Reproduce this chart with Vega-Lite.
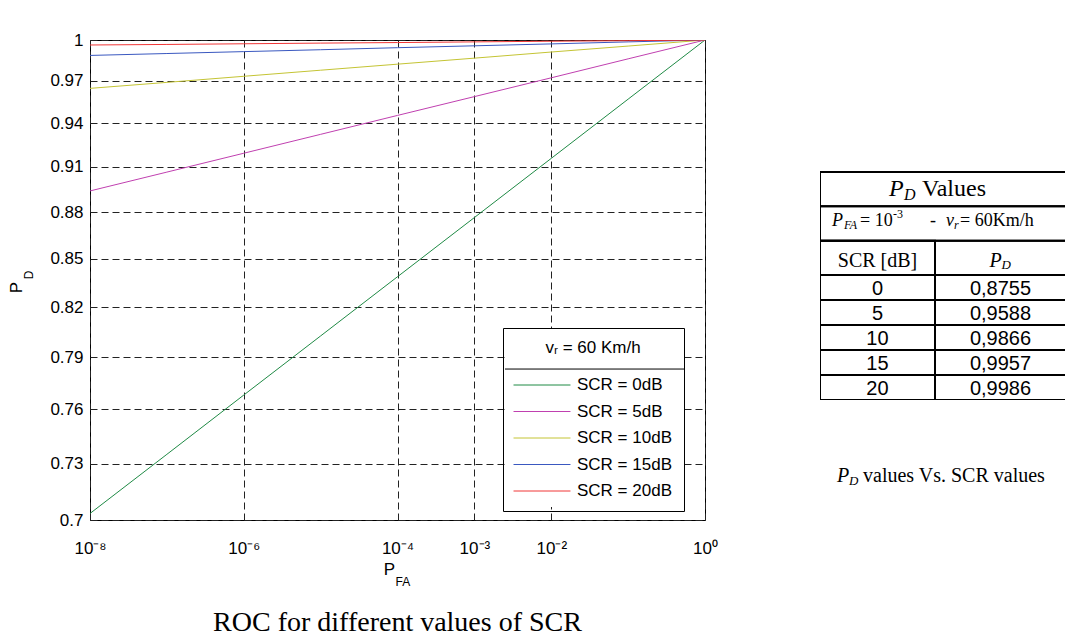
{
  "$schema": "https://vega.github.io/schema/vega-lite/v6.json",
  "background": "#ffffff",
  "padding": {"left": 7, "top": 30, "right": 0, "bottom": 0},
  "bounds": "flush",
  "spacing": 115,
  "config": {
    "font": "Liberation Sans",
    "view": {"stroke": "#000000", "strokeWidth": 1}
  },
  "datasets": {
    "roc": [
      {"scr": "SCR = 0dB", "pfa": 1e-8, "pd": 0.7034},
      {"scr": "SCR = 0dB", "pfa": 1e-7, "pd": 0.7350},
      {"scr": "SCR = 0dB", "pfa": 1e-6, "pd": 0.7681},
      {"scr": "SCR = 0dB", "pfa": 1e-5, "pd": 0.8026},
      {"scr": "SCR = 0dB", "pfa": 1e-4, "pd": 0.8387},
      {"scr": "SCR = 0dB", "pfa": 1e-3, "pd": 0.8764},
      {"scr": "SCR = 0dB", "pfa": 1e-2, "pd": 0.9158},
      {"scr": "SCR = 0dB", "pfa": 1e-1, "pd": 0.9570},
      {"scr": "SCR = 0dB", "pfa": 1, "pd": 1},
      {"scr": "SCR = 5dB", "pfa": 1e-8, "pd": 0.8939},
      {"scr": "SCR = 5dB", "pfa": 1e-7, "pd": 0.9065},
      {"scr": "SCR = 5dB", "pfa": 1e-6, "pd": 0.9193},
      {"scr": "SCR = 5dB", "pfa": 1e-5, "pd": 0.9323},
      {"scr": "SCR = 5dB", "pfa": 1e-4, "pd": 0.9455},
      {"scr": "SCR = 5dB", "pfa": 1e-3, "pd": 0.9588},
      {"scr": "SCR = 5dB", "pfa": 1e-2, "pd": 0.9723},
      {"scr": "SCR = 5dB", "pfa": 1e-1, "pd": 0.9861},
      {"scr": "SCR = 5dB", "pfa": 1, "pd": 1},
      {"scr": "SCR = 10dB", "pfa": 1e-8, "pd": 0.9647},
      {"scr": "SCR = 10dB", "pfa": 1e-7, "pd": 0.9690},
      {"scr": "SCR = 10dB", "pfa": 1e-6, "pd": 0.9734},
      {"scr": "SCR = 10dB", "pfa": 1e-5, "pd": 0.9778},
      {"scr": "SCR = 10dB", "pfa": 1e-4, "pd": 0.9822},
      {"scr": "SCR = 10dB", "pfa": 1e-3, "pd": 0.9866},
      {"scr": "SCR = 10dB", "pfa": 1e-2, "pd": 0.9911},
      {"scr": "SCR = 10dB", "pfa": 1e-1, "pd": 0.9955},
      {"scr": "SCR = 10dB", "pfa": 1, "pd": 1},
      {"scr": "SCR = 15dB", "pfa": 1e-8, "pd": 0.9886},
      {"scr": "SCR = 15dB", "pfa": 1e-7, "pd": 0.9900},
      {"scr": "SCR = 15dB", "pfa": 1e-6, "pd": 0.9914},
      {"scr": "SCR = 15dB", "pfa": 1e-5, "pd": 0.9928},
      {"scr": "SCR = 15dB", "pfa": 1e-4, "pd": 0.9943},
      {"scr": "SCR = 15dB", "pfa": 1e-3, "pd": 0.9957},
      {"scr": "SCR = 15dB", "pfa": 1e-2, "pd": 0.9971},
      {"scr": "SCR = 15dB", "pfa": 1e-1, "pd": 0.9986},
      {"scr": "SCR = 15dB", "pfa": 1, "pd": 1},
      {"scr": "SCR = 20dB", "pfa": 1e-8, "pd": 0.9963},
      {"scr": "SCR = 20dB", "pfa": 1e-7, "pd": 0.9967},
      {"scr": "SCR = 20dB", "pfa": 1e-6, "pd": 0.9972},
      {"scr": "SCR = 20dB", "pfa": 1e-5, "pd": 0.9977},
      {"scr": "SCR = 20dB", "pfa": 1e-4, "pd": 0.9981},
      {"scr": "SCR = 20dB", "pfa": 1e-3, "pd": 0.9986},
      {"scr": "SCR = 20dB", "pfa": 1e-2, "pd": 0.9991},
      {"scr": "SCR = 20dB", "pfa": 1e-1, "pd": 0.9995},
      {"scr": "SCR = 20dB", "pfa": 1, "pd": 1}
    ],
    "pdtable": [
      {"scr": "0", "pd": "0,8755"},
      {"scr": "5", "pd": "0,9588"},
      {"scr": "10", "pd": "0,9866"},
      {"scr": "15", "pd": "0,9957"},
      {"scr": "20", "pd": "0,9986"}
    ]
  },
  "hconcat": [
    {
      "width": 615,
      "height": 480,
      "title": {"text": "ROC for different values of SCR", "orient": "bottom", "anchor": "middle", "font": "Liberation Serif", "fontSize": 28, "fontWeight": "normal", "color": "#000000", "offset": 21},
      "layer": [
        {
          "data": {"values": [{}]},
          "mark": {"type": "rect", "fill": "#ffffff"},
          "encoding": {
            "x": {"datum": 0.0025, "type": "quantitative"},
            "x2": {"datum": 0.5495},
            "y": {"datum": 0.7068, "type": "quantitative"},
            "y2": {"datum": 0.8074}
          }
        },
        {
          "data": {"name": "roc"},
          "mark": {"type": "line", "strokeWidth": 1, "clip": true},
          "encoding": {
            "x": {
              "field": "pfa", "type": "quantitative",
              "scale": {"type": "log", "domain": [1e-8, 1], "nice": false},
              "axis": {
                "values": [1e-8, 1e-6, 1e-4, 1e-3, 1e-2, 1],
                "labelExpr": "datum.value > 0.5 ? '10⁰' : datum.value > 0.005 ? '10⁻²' : datum.value > 0.0005 ? '10⁻³' : datum.value > 0.00005 ? '10⁻⁴' : datum.value > 0.0000005 ? '10⁻⁶' : '10⁻⁸'",
                "title": null, "grid": true, "gridDash": [7, 4], "gridColor": "#222222", "gridWidth": 1,
                "ticks": false, "domain": false, "labelFont": "Liberation Sans", "labelFontSize": 17,
                "labelColor": "#000000", "labelPadding": 20, "labelFlush": false, "labelOverlap": false, "labelBound": false
              }
            },
            "y": {
              "field": "pd", "type": "quantitative",
              "scale": {"type": "log", "domain": [0.7, 1], "nice": false, "zero": false},
              "axis": {
                "values": [0.7, 0.73, 0.76, 0.79, 0.82, 0.85, 0.88, 0.91, 0.94, 0.97, 1],
                "format": ".2~f",
                "title": null, "grid": true, "gridDash": [7, 4], "gridColor": "#222222", "gridWidth": 1,
                "ticks": false, "domain": false, "labelFont": "Liberation Sans", "labelFontSize": 17,
                "labelColor": "#000000", "labelPadding": 7, "labelOverlap": false
              }
            },
            "color": {
              "field": "scr", "type": "nominal",
              "scale": {
                "domain": ["SCR = 0dB", "SCR = 5dB", "SCR = 10dB", "SCR = 15dB", "SCR = 20dB"],
                "range": ["#1f8a45", "#c040b0", "#c4c434", "#3a58c0", "#f03636"]
              },
              "legend": {
                "orient": "none", "legendX": 413, "legendY": 288,
                "title": "vᵣ = 60 Km/h", "titleFont": "Liberation Sans", "titleFontSize": 17, "titleFontWeight": "normal",
                "titleColor": "#000000", "titleAnchor": "middle", "titlePadding": 19,
                "labelFont": "Liberation Sans", "labelFontSize": 17, "labelColor": "#000000", "labelOffset": 26,
                "symbolType": "M-3.35,0H3.35", "symbolSize": 289, "symbolStrokeWidth": 1, "symbolOffset": 18,
                "rowPadding": 9.5, "padding": 12, "strokeColor": "#000000", "cornerRadius": 0
              }
            }
          }
        },
        {
          "data": {"values": [{}]},
          "mark": {"type": "rule", "color": "#000000", "strokeWidth": 1},
          "encoding": {
            "x": {"datum": 0.0025, "type": "quantitative"},
            "x2": {"datum": 0.5495},
            "y": {"datum": 0.7831, "type": "quantitative"}
          }
        },
        {
          "data": {"values": [{}]},
          "mark": {"type": "text", "font": "Liberation Sans", "fontSize": 17, "angle": 270, "align": "center", "baseline": "middle", "xOffset": -73, "color": "#000000"},
          "encoding": {"x": {"datum": 1e-8, "type": "quantitative"}, "y": {"datum": 0.832, "type": "quantitative"}, "text": {"value": "P"}}
        },
        {
          "data": {"values": [{}]},
          "mark": {"type": "text", "font": "Liberation Sans", "fontSize": 12, "angle": 270, "align": "center", "baseline": "middle", "xOffset": -61, "color": "#000000"},
          "encoding": {"x": {"datum": 1e-8, "type": "quantitative"}, "y": {"datum": 0.8398, "type": "quantitative"}, "text": {"value": "D"}}
        },
        {
          "data": {"values": [{}]},
          "mark": {"type": "text", "font": "Liberation Sans", "fontSize": 17, "align": "center", "baseline": "middle", "xOffset": -8, "yOffset": 50, "color": "#000000"},
          "encoding": {"x": {"datum": 1e-4, "type": "quantitative"}, "y": {"datum": 0.7, "type": "quantitative"}, "text": {"value": "P"}}
        },
        {
          "data": {"values": [{}]},
          "mark": {"type": "text", "font": "Liberation Sans", "fontSize": 12, "align": "left", "baseline": "middle", "xOffset": -2, "yOffset": 62, "color": "#000000"},
          "encoding": {"x": {"datum": 1e-4, "type": "quantitative"}, "y": {"datum": 0.7, "type": "quantitative"}, "text": {"value": "FA"}}
        }
      ]
    },
    {
      "width": 246,
      "height": 360,
      "view": {"stroke": null},
      "resolve": {"scale": {"y": "independent"}},
      "layer": [
        {
          "data": {"values": [{"row": "title"}, {"row": "sub"}, {"row": "head"}]},
          "layer": [
            {
              "mark": {"type": "rect", "fill": "transparent", "stroke": "#000000", "strokeWidth": 2, "clip": true},
              "encoding": {
                "y": {"field": "row", "type": "nominal", "scale": {"type": "band", "domain": ["title", "sub", "head"], "range": [132, 235], "paddingInner": 0, "paddingOuter": 0}, "axis": null},
                "x": {"datum": 0, "type": "quantitative", "scale": {"domain": [0, 1], "nice": false}, "axis": null},
                "x2": {"datum": 1.03}
              }
            },
            {
              "transform": [{"filter": "datum.row === 'head'"}],
              "mark": {"type": "rect", "fill": "transparent", "stroke": "#000000", "strokeWidth": 2, "clip": true},
              "encoding": {
                "y": {"field": "row", "type": "nominal", "axis": null},
                "x": {"datum": 0, "type": "quantitative", "axis": null},
                "x2": {"datum": 0.4675}
              }
            },
            {
              "transform": [{"filter": "datum.row === 'title'"}],
              "mark": {"type": "text", "font": "Liberation Serif", "fontStyle": "italic", "fontSize": 24, "align": "left", "baseline": "middle", "dx": -54, "color": "#000000"},
              "encoding": {"y": {"field": "row", "type": "nominal", "axis": null}, "x": {"datum": 0.5, "type": "quantitative"}, "text": {"value": "P"}}
            },
            {
              "transform": [{"filter": "datum.row === 'title'"}],
              "mark": {"type": "text", "font": "Liberation Serif", "fontStyle": "italic", "fontSize": 16, "align": "left", "baseline": "middle", "dx": -39, "dy": 6, "color": "#000000"},
              "encoding": {"y": {"field": "row", "type": "nominal", "axis": null}, "x": {"datum": 0.5, "type": "quantitative"}, "text": {"value": "D"}}
            },
            {
              "transform": [{"filter": "datum.row === 'title'"}],
              "mark": {"type": "text", "font": "Liberation Serif", "fontSize": 24, "align": "left", "baseline": "middle", "dx": -21, "color": "#000000"},
              "encoding": {"y": {"field": "row", "type": "nominal", "axis": null}, "x": {"datum": 0.5, "type": "quantitative"}, "text": {"value": "Values"}}
            },
            {
              "transform": [{"filter": "datum.row === 'sub'"}],
              "mark": {"type": "text", "font": "Liberation Serif", "fontStyle": "italic", "fontSize": 18, "align": "left", "baseline": "middle", "dx": -111, "dy": -3, "color": "#000000"},
              "encoding": {"y": {"field": "row", "type": "nominal", "axis": null}, "x": {"datum": 0.5, "type": "quantitative"}, "text": {"value": "P"}}
            },
            {
              "transform": [{"filter": "datum.row === 'sub'"}],
              "mark": {"type": "text", "font": "Liberation Serif", "fontStyle": "italic", "fontSize": 12, "align": "left", "baseline": "middle", "dx": -99, "dy": 1, "color": "#000000"},
              "encoding": {"y": {"field": "row", "type": "nominal", "axis": null}, "x": {"datum": 0.5, "type": "quantitative"}, "text": {"value": "FA"}}
            },
            {
              "transform": [{"filter": "datum.row === 'sub'"}],
              "mark": {"type": "text", "font": "Liberation Serif", "fontSize": 18, "align": "left", "baseline": "middle", "dx": -83, "dy": -3, "color": "#000000"},
              "encoding": {"y": {"field": "row", "type": "nominal", "axis": null}, "x": {"datum": 0.5, "type": "quantitative"}, "text": {"value": "= 10"}}
            },
            {
              "transform": [{"filter": "datum.row === 'sub'"}],
              "mark": {"type": "text", "font": "Liberation Serif", "fontSize": 12, "align": "left", "baseline": "middle", "dx": -50, "dy": -10, "color": "#000000"},
              "encoding": {"y": {"field": "row", "type": "nominal", "axis": null}, "x": {"datum": 0.5, "type": "quantitative"}, "text": {"value": "-3"}}
            },
            {
              "transform": [{"filter": "datum.row === 'sub'"}],
              "mark": {"type": "text", "font": "Liberation Serif", "fontSize": 18, "align": "left", "baseline": "middle", "dx": -13, "dy": -3, "color": "#000000"},
              "encoding": {"y": {"field": "row", "type": "nominal", "axis": null}, "x": {"datum": 0.5, "type": "quantitative"}, "text": {"value": "-"}}
            },
            {
              "transform": [{"filter": "datum.row === 'sub'"}],
              "mark": {"type": "text", "font": "Liberation Serif", "fontStyle": "italic", "fontSize": 18, "align": "left", "baseline": "middle", "dx": 3, "dy": -3, "color": "#000000"},
              "encoding": {"y": {"field": "row", "type": "nominal", "axis": null}, "x": {"datum": 0.5, "type": "quantitative"}, "text": {"value": "v"}}
            },
            {
              "transform": [{"filter": "datum.row === 'sub'"}],
              "mark": {"type": "text", "font": "Liberation Serif", "fontStyle": "italic", "fontSize": 12, "align": "left", "baseline": "middle", "dx": 11, "dy": 1, "color": "#000000"},
              "encoding": {"y": {"field": "row", "type": "nominal", "axis": null}, "x": {"datum": 0.5, "type": "quantitative"}, "text": {"value": "r"}}
            },
            {
              "transform": [{"filter": "datum.row === 'sub'"}],
              "mark": {"type": "text", "font": "Liberation Serif", "fontSize": 18, "align": "left", "baseline": "middle", "dx": 17, "dy": -3, "color": "#000000"},
              "encoding": {"y": {"field": "row", "type": "nominal", "axis": null}, "x": {"datum": 0.5, "type": "quantitative"}, "text": {"value": "= 60Km/h"}}
            },
            {
              "transform": [{"filter": "datum.row === 'head'"}],
              "mark": {"type": "text", "font": "Liberation Serif", "fontSize": 20, "align": "center", "baseline": "middle", "dy": 3, "color": "#000000"},
              "encoding": {"y": {"field": "row", "type": "nominal", "axis": null}, "x": {"datum": 0.2337, "type": "quantitative"}, "text": {"value": "SCR [dB]"}}
            },
            {
              "transform": [{"filter": "datum.row === 'head'"}],
              "mark": {"type": "text", "font": "Liberation Serif", "fontStyle": "italic", "fontSize": 20, "align": "left", "baseline": "middle", "dx": -11, "dy": 3, "color": "#000000"},
              "encoding": {"y": {"field": "row", "type": "nominal", "axis": null}, "x": {"datum": 0.7337, "type": "quantitative"}, "text": {"value": "P"}}
            },
            {
              "transform": [{"filter": "datum.row === 'head'"}],
              "mark": {"type": "text", "font": "Liberation Serif", "fontStyle": "italic", "fontSize": 13, "align": "left", "baseline": "middle", "dx": 1, "dy": 7, "color": "#000000"},
              "encoding": {"y": {"field": "row", "type": "nominal", "axis": null}, "x": {"datum": 0.7337, "type": "quantitative"}, "text": {"value": "D"}}
            }
          ]
        },
        {
          "data": {"name": "pdtable"},
          "layer": [
            {
              "mark": {"type": "rect", "fill": "transparent", "stroke": "#000000", "strokeWidth": 2, "clip": true},
              "encoding": {
                "y": {"field": "scr", "type": "nominal", "scale": {"type": "band", "domain": ["0", "5", "10", "15", "20"], "range": [235, 360], "paddingInner": 0, "paddingOuter": 0}, "axis": null},
                "x": {"datum": 0, "type": "quantitative", "axis": null},
                "x2": {"datum": 1.03}
              }
            },
            {
              "mark": {"type": "rect", "fill": "transparent", "stroke": "#000000", "strokeWidth": 2, "clip": true},
              "encoding": {
                "y": {"field": "scr", "type": "nominal", "axis": null},
                "x": {"datum": 0, "type": "quantitative", "axis": null},
                "x2": {"datum": 0.4675}
              }
            },
            {
              "mark": {"type": "text", "font": "Liberation Sans", "fontSize": 20, "align": "center", "baseline": "middle", "dy": 1, "color": "#000000"},
              "encoding": {"y": {"field": "scr", "type": "nominal", "axis": null}, "x": {"datum": 0.2337, "type": "quantitative"}, "text": {"field": "scr"}}
            },
            {
              "mark": {"type": "text", "font": "Liberation Sans", "fontSize": 20, "align": "center", "baseline": "middle", "dy": 1, "color": "#000000"},
              "encoding": {"y": {"field": "scr", "type": "nominal", "axis": null}, "x": {"datum": 0.7337, "type": "quantitative"}, "text": {"field": "pd"}}
            },
            {
              "transform": [{"filter": "datum.scr === '20'"}],
              "mark": {"type": "text", "font": "Liberation Serif", "fontStyle": "italic", "fontSize": 20, "align": "left", "baseline": "middle", "dx": -106, "dy": 88, "color": "#000000"},
              "encoding": {"y": {"field": "scr", "type": "nominal", "axis": null}, "x": {"datum": 0.5, "type": "quantitative"}, "text": {"value": "P"}}
            },
            {
              "transform": [{"filter": "datum.scr === '20'"}],
              "mark": {"type": "text", "font": "Liberation Serif", "fontStyle": "italic", "fontSize": 13, "align": "left", "baseline": "middle", "dx": -94, "dy": 93, "color": "#000000"},
              "encoding": {"y": {"field": "scr", "type": "nominal", "axis": null}, "x": {"datum": 0.5, "type": "quantitative"}, "text": {"value": "D"}}
            },
            {
              "transform": [{"filter": "datum.scr === '20'"}],
              "mark": {"type": "text", "font": "Liberation Serif", "fontSize": 20, "align": "left", "baseline": "middle", "dx": -80, "dy": 88, "color": "#000000"},
              "encoding": {"y": {"field": "scr", "type": "nominal", "axis": null}, "x": {"datum": 0.5, "type": "quantitative"}, "text": {"value": "values Vs. SCR values"}}
            }
          ]
        }
      ]
    }
  ]
}
